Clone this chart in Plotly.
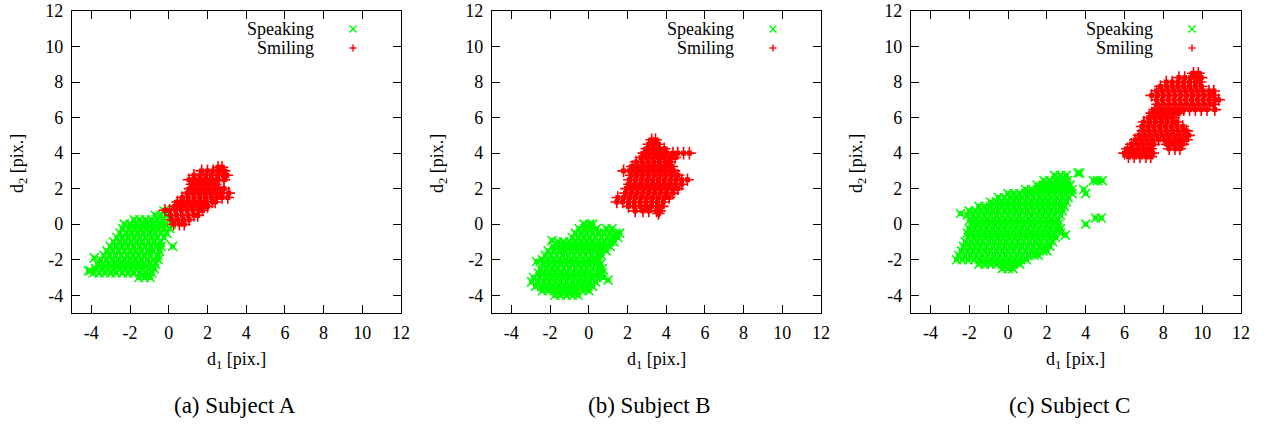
import plotly.graph_objects as go

# ---------------- data (rows of points: (d2, [d1 values])) ----------------
speaking_a_rows = [
    (-3.0, [-1.55, -1.25, -0.95]),
    (-2.75, [-3.9, -3.6, -3.3, -3.0, -2.72, -2.4, -2.1, -1.82, -1.5, -1.2, -0.88]),
    (-2.62, [-4.15, -4.05]),
    (-2.5, [-3.78, -3.45, -3.15, -2.85, -2.55, -2.25, -1.95, -1.65, -1.35, -1.05, -0.75]),
    (-2.25, [-3.68, -3.4, -3.1, -2.8, -2.5, -2.2, -1.9, -1.6, -1.3, -1.0, -0.68]),
    (-2.0, [-3.52, -3.2, -2.9, -2.6, -2.3, -2.0, -1.7, -1.4, -1.1, -0.8, -0.55]),
    (-1.9, [-3.85]),
    (-1.75, [-3.35, -3.05, -2.75, -2.45, -2.15, -1.85, -1.55, -1.25, -0.95, -0.55]),
    (-1.5, [-3.2, -2.9, -2.6, -2.3, -2.0, -1.7, -1.4, -1.1, -0.85, -0.48]),
    (-1.25, [-3.02, -2.72, -2.42, -2.12, -1.82, -1.52, -1.22, -0.92, -0.62, -0.4, 0.2]),
    (-1.0, [-2.85, -2.55, -2.25, -1.95, -1.65, -1.35, -1.05, -0.75, -0.42]),
    (-0.75, [-2.68, -2.4, -2.1, -1.8, -1.5, -1.2, -0.9, -0.6, -0.25]),
    (-0.5, [-2.52, -2.2, -1.9, -1.6, -1.3, -1.0, -0.7, -0.4, -0.1]),
    (-0.25, [-2.38, -2.05, -1.75, -1.45, -1.15, -0.85, -0.55, -0.25, 0.05]),
    (0.0, [-2.3, -2.0, -1.7, -1.4, -1.1, -0.8, -0.5, -0.2, 0.15]),
    (0.25, [-1.8, -1.5, -1.2, -0.9, -0.6, -0.3, 0.05]),
    (0.5, [-0.7, -0.4, -0.1]),
    (0.75, [-0.25, 0.0]),
]
smiling_a_rows = [
    (0.0, [0.25, 0.55, 0.8]),
    (0.25, [0.15, 0.45, 0.75, 1.05]),
    (0.5, [0.1, 0.4, 0.7, 1.0, 1.3, 1.5]),
    (0.78, [-0.2, 0.05, 0.35, 0.65, 0.95, 1.25, 1.55, 1.75]),
    (1.0, [0.3, 0.6, 0.9, 1.2, 1.5, 1.8, 2.0]),
    (1.25, [0.45, 0.75, 1.05, 1.35, 1.65, 1.95, 2.25, 2.4]),
    (1.5, [0.7, 1.0, 1.3, 1.6, 1.9, 2.2, 2.5, 2.75, 3.05]),
    (1.75, [0.95, 1.25, 1.55, 1.85, 2.15, 2.45, 2.75, 3.1]),
    (2.0, [1.1, 1.4, 1.7, 2.0, 2.3, 2.6, 2.85]),
    (2.25, [1.2, 1.5, 1.8, 2.1, 2.4]),
    (2.5, [1.05, 1.35, 1.65, 1.95, 2.25, 2.55, 2.85]),
    (2.75, [1.3, 1.6, 1.9, 2.2, 2.5, 2.8, 3.0]),
    (3.0, [1.7, 2.0, 2.3, 2.6, 2.85]),
    (3.2, [2.55, 2.75]),
]
speaking_b_rows = [
    (0.0, [-0.25, 0.05, 0.2]),
    (-0.25, [-0.5, -0.2, 0.1, 0.4, 0.9, 1.2]),
    (-0.5, [-0.7, -0.4, -0.1, 0.2, 0.5, 0.8, 1.1, 1.4, 1.6]),
    (-0.75, [-0.85, -0.55, -0.25, 0.05, 0.35, 0.65, 0.95, 1.25, 1.5]),
    (-0.92, [-1.9]),
    (-1.0, [-1.6, -1.3, -1.0, -0.7, -0.4, -0.1, 0.2, 0.5, 0.8, 1.1, 1.3]),
    (-1.25, [-1.85, -1.55, -1.25, -0.95, -0.65, -0.35, -0.05, 0.25, 0.55, 0.85, 1.1]),
    (-1.5, [-2.1, -1.8, -1.5, -1.2, -0.9, -0.6, -0.3, 0.0, 0.3, 0.6, 0.9]),
    (-1.75, [-2.25, -1.95, -1.65, -1.35, -1.05, -0.75, -0.45, -0.15, 0.15, 0.45, 0.65]),
    (-2.0, [-2.4, -2.1, -1.8, -1.5, -1.2, -0.9, -0.6, -0.3, 0.0, 0.3, 0.5]),
    (-2.1, [-2.7]),
    (-2.25, [-2.35, -2.05, -1.75, -1.45, -1.15, -0.85, -0.55, -0.25, 0.05, 0.35, 0.6]),
    (-2.5, [-2.5, -2.2, -1.9, -1.6, -1.3, -1.0, -0.7, -0.4, -0.1, 0.2, 0.5, 0.7]),
    (-2.75, [-2.6, -2.3, -2.0, -1.7, -1.4, -1.1, -0.8, -0.5, -0.2, 0.1, 0.4, 0.7]),
    (-3.0, [-2.85, -2.55, -2.25, -1.95, -1.65, -1.35, -1.05, -0.75, -0.45, -0.15, 0.15, 0.45, 0.75]),
    (-3.15, [1.0]),
    (-3.25, [-2.95, -2.65, -2.35, -2.05, -1.75, -1.45, -1.15, -0.85, -0.55, -0.25, 0.05, 0.35]),
    (-3.5, [-2.75, -2.45, -2.15, -1.85, -1.55, -1.25, -0.95, -0.65, -0.35, -0.05, 0.2]),
    (-3.75, [-2.4, -2.1, -1.8, -1.5, -1.2, -0.9, -0.6, -0.3, 0.0]),
    (-4.0, [-1.75, -1.45, -1.15, -0.85, -0.55]),
]
smiling_b_rows = [
    (4.75, [3.25, 3.45]),
    (4.5, [3.1, 3.35, 3.6]),
    (4.25, [3.0, 3.3, 3.6, 3.9]),
    (4.0, [2.85, 3.15, 3.45, 3.75, 4.05, 4.35, 4.6, 4.9, 5.2]),
    (3.75, [2.7, 3.0, 3.3, 3.6, 3.9, 4.2, 4.45]),
    (3.5, [2.45, 2.75, 3.05, 3.35, 3.65, 3.95, 4.2]),
    (3.25, [2.25, 2.55, 2.85, 3.15, 3.45, 3.75, 4.05, 4.3]),
    (3.0, [1.8, 2.1, 2.4, 2.7, 3.0, 3.3, 3.6, 3.9, 4.2, 4.4]),
    (2.75, [2.2, 2.5, 2.8, 3.1, 3.4, 3.7, 4.0, 4.3, 4.6]),
    (2.5, [2.1, 2.4, 2.7, 3.0, 3.3, 3.6, 3.9, 4.2, 4.5, 4.8, 5.1]),
    (2.25, [2.1, 2.4, 2.7, 3.0, 3.3, 3.6, 3.9, 4.2, 4.5, 4.8]),
    (2.0, [1.95, 2.25, 2.55, 2.85, 3.15, 3.45, 3.75, 4.05, 4.35, 4.6]),
    (1.75, [1.9, 2.2, 2.5, 2.8, 3.1, 3.4, 3.7, 4.0, 4.35]),
    (1.5, [1.5, 1.8, 2.1, 2.4, 2.7, 3.0, 3.3, 3.6, 3.9, 4.15]),
    (1.25, [1.45, 1.75, 2.05, 2.35, 2.65, 2.95, 3.25, 3.55, 3.85]),
    (1.0, [2.05, 2.35, 2.65, 2.95, 3.25, 3.55, 3.8]),
    (0.75, [2.4, 2.8, 3.1, 3.5, 3.65]),
    (0.6, [3.6]),
]
speaking_c_rows = [
    (2.88, [3.6, 3.7]),
    (2.75, [2.4, 2.7, 3.0]),
    (2.45, [1.85, 2.15, 2.45, 2.75, 3.05, 4.4, 4.6, 4.85]),
    (2.2, [1.5, 1.8, 2.1, 2.4, 2.7, 3.0, 3.2]),
    (1.95, [0.9, 1.2, 1.5, 1.8, 2.1, 2.4, 2.7, 3.0, 3.3, 3.9]),
    (1.72, [0.0, 0.3, 0.6, 0.9, 1.2, 1.5, 1.8, 2.1, 2.4, 2.7, 3.0, 3.3, 4.0]),
    (1.5, [-0.5, -0.2, 0.1, 0.4, 0.7, 1.0, 1.3, 1.6, 1.9, 2.2, 2.5, 2.8, 3.1]),
    (1.25, [-0.9, -0.6, -0.3, 0.0, 0.3, 0.6, 0.9, 1.2, 1.5, 1.8, 2.1, 2.4, 2.7, 3.0]),
    (1.0, [-1.5, -1.2, -0.9, -0.6, -0.3, 0.0, 0.3, 0.6, 0.9, 1.2, 1.5, 1.8, 2.1, 2.4, 2.7, 2.9]),
    (0.75, [-2.0, -1.7, -1.4, -1.1, -0.8, -0.5, -0.2, 0.1, 0.4, 0.7, 1.0, 1.3, 1.6, 1.9, 2.2, 2.5, 2.8]),
    (0.6, [-2.45]),
    (0.5, [-2.1, -1.8, -1.5, -1.2, -0.9, -0.6, -0.3, 0.0, 0.3, 0.6, 0.9, 1.2, 1.5, 1.8, 2.1, 2.4, 2.7]),
    (0.35, [4.5, 4.8]),
    (0.25, [-1.95, -1.65, -1.35, -1.05, -0.75, -0.45, -0.15, 0.15, 0.45, 0.75, 1.05, 1.35, 1.65, 1.95, 2.25, 2.55]),
    (0.0, [-1.9, -1.6, -1.3, -1.0, -0.7, -0.4, -0.1, 0.2, 0.5, 0.8, 1.1, 1.4, 1.7, 2.0, 2.3, 2.6, 4.0]),
    (-0.25, [-2.0, -1.7, -1.4, -1.1, -0.8, -0.5, -0.2, 0.1, 0.4, 0.7, 1.0, 1.3, 1.6, 1.9, 2.2, 2.5, 2.7]),
    (-0.5, [-2.1, -1.8, -1.5, -1.2, -0.9, -0.6, -0.3, 0.0, 0.3, 0.6, 0.9, 1.2, 1.5, 1.8, 2.1, 2.4, 2.7]),
    (-0.62, [2.95]),
    (-0.75, [-2.05, -1.75, -1.45, -1.15, -0.85, -0.55, -0.25, 0.05, 0.35, 0.65, 0.95, 1.25, 1.55, 1.85, 2.15, 2.45]),
    (-1.0, [-2.2, -1.9, -1.6, -1.3, -1.0, -0.7, -0.4, -0.1, 0.2, 0.5, 0.8, 1.1, 1.4, 1.7, 2.0, 2.3]),
    (-1.25, [-2.3, -2.0, -1.7, -1.4, -1.1, -0.8, -0.5, -0.2, 0.1, 0.4, 0.7, 1.0, 1.3, 1.6, 1.9, 2.15]),
    (-1.5, [-2.4, -2.1, -1.8, -1.5, -1.2, -0.9, -0.6, -0.3, 0.0, 0.3, 0.6, 0.9, 1.2, 1.5, 1.8, 2.0]),
    (-1.75, [-2.55, -2.25, -1.95, -1.65, -1.35, -1.05, -0.75, -0.45, -0.15, 0.15, 0.45, 0.75, 1.05, 1.35, 1.55]),
    (-2.0, [-2.65, -2.35, -2.05, -1.75, -1.45, -1.15, -0.85, -0.55, -0.25, 0.05, 0.35, 0.65, 0.95]),
    (-2.25, [-1.5, -1.2, -0.9, -0.6, -0.3, 0.0, 0.3, 0.6]),
    (-2.5, [-0.3, 0.0, 0.25]),
]
smiling_c_rows = [
    (8.5, [9.55, 9.8]),
    (8.25, [8.8, 9.1, 9.4, 9.7, 9.95]),
    (8.0, [8.15, 8.45, 8.75, 9.05, 9.35, 9.65, 9.9]),
    (7.75, [7.85, 8.15, 8.45, 8.75, 9.05, 9.35, 9.65, 9.95]),
    (7.5, [7.65, 7.95, 8.25, 8.55, 8.85, 9.15, 9.45, 9.75, 10.05, 10.35, 10.6]),
    (7.25, [7.4, 7.7, 8.0, 8.3, 8.6, 8.9, 9.2, 9.5, 9.8, 10.1, 10.4, 10.6]),
    (7.0, [7.65, 7.95, 8.25, 8.55, 8.85, 9.15, 9.45, 9.75, 10.05, 10.35, 10.65, 10.85]),
    (6.75, [7.7, 8.0, 8.3, 8.6, 8.9, 9.2, 9.5, 9.8, 10.1, 10.4, 10.6]),
    (6.45, [7.55, 7.85, 8.15, 8.45, 8.75, 9.05, 9.35, 9.65, 9.95, 10.25, 10.65]),
    (6.25, [7.4, 7.7, 8.0, 8.3, 8.6, 8.8]),
    (6.0, [7.25, 7.55, 7.85, 8.15, 8.45]),
    (5.75, [7.0, 7.3, 7.6, 7.9, 8.2, 8.5, 8.7]),
    (5.5, [6.9, 7.2, 7.5, 7.8, 8.1, 8.4, 8.7, 9.0]),
    (5.25, [6.95, 7.25, 7.55, 7.85, 8.15, 8.45, 8.75, 9.05, 9.2]),
    (5.0, [6.75, 7.05, 7.35, 7.65, 7.95, 8.25, 8.55, 8.85, 9.15, 9.3]),
    (4.75, [6.55, 6.85, 7.15, 7.45, 7.75, 8.05, 8.35, 8.65, 8.95, 9.2]),
    (4.5, [6.35, 6.65, 6.95, 7.25, 7.5, 8.2, 8.5, 8.8, 9.0]),
    (4.25, [6.15, 6.45, 6.75, 7.05, 7.35, 8.3, 8.6, 8.85]),
    (4.0, [6.0, 6.3, 6.6, 6.9, 7.2, 7.45]),
    (3.8, [6.2, 6.5, 6.8, 7.1, 7.35]),
]

tick_values = [-4, -2, 0, 2, 4, 6, 8, 10, 12]
tick_labels = ["-4", "-2", "0", "2", "4", "6", "8", "10", "12"]
series_names = ["Speaking", "Smiling"]
captions = ["(a) Subject A", "(b) Subject B", "(c) Subject C"]

# ---------------- layout geometry (pixels in the 1268x425 page) ----------------
W, H = 1268, 425
PLOT_TOP, PLOT_BOTTOM = 11, 313
panel_left = [72, 492, 911]
panel_right = [401, 821, 1241]
caption_x = [235, 649, 1069]

GREEN = "#00ff00"
RED = "#ff0000"
FONT = "Liberation Serif"


def fx(p):
    return p / W


def fy(p):
    return 1 - p / H


def flatten(rows):
    xs, ys = [], []
    for yv, row in rows:
        for xv in row:
            xs.append(xv)
            ys.append(yv)
    return xs, ys


panels = [
    (speaking_a_rows, smiling_a_rows),
    (speaking_b_rows, smiling_b_rows),
    (speaking_c_rows, smiling_c_rows),
]

fig = go.Figure()
annotations = []
shapes = []

for i, (sp_rows, sm_rows) in enumerate(panels):
    suffix = "" if i == 0 else str(i + 1)
    xref = "x" + suffix
    yref = "y" + suffix
    for rows, name, sym, col in [(sp_rows, series_names[0], "x-thin", GREEN),
                                 (sm_rows, series_names[1], "cross-thin", RED)]:
        px_, py_ = flatten(rows)
        # dense overplotted core (the original has hundreds of overlapping markers)
        fig.add_trace(go.Scatter(
            x=px_, y=py_, mode="markers", name=name, showlegend=False,
            xaxis=xref, yaxis=yref, hoverinfo="skip",
            marker=dict(symbol="square", size=5, color=col, line=dict(width=0)),
        ))
        fig.add_trace(go.Scatter(
            x=px_, y=py_, mode="markers", name=name, showlegend=False,
            xaxis=xref, yaxis=yref, hoverinfo="skip",
            marker=dict(symbol=sym, size=9, color=col, line=dict(width=1.6, color=col)),
        ))

    axis_common = dict(
        range=[-5, 12], tickmode="array", tickvals=tick_values, ticktext=tick_labels,
        showline=True, linecolor="black", linewidth=1.2, mirror="ticks",
        ticks="inside", ticklen=8, tickcolor="black", tickwidth=1,
        showgrid=False, zeroline=False, fixedrange=True, automargin=False,
        tickfont=dict(family=FONT, size=18, color="black"),
    )
    L, R = panel_left[i], panel_right[i]
    fig.update_layout(**{
        "xaxis" + suffix: dict(axis_common, domain=[fx(L), fx(R)], anchor=yref, ticklabelstandoff=3),
        "yaxis" + suffix: dict(axis_common, domain=[fy(PLOT_BOTTOM), fy(PLOT_TOP)], anchor=xref,
                               ticklabelstandoff=4),
    })

    # axis titles
    annotations.append(dict(
        text="d<sub>1</sub> [pix.]", x=fx(L + 164), y=fy(360), xref="paper", yref="paper",
        showarrow=False, xanchor="center", yanchor="middle",
        font=dict(family=FONT, size=18, color="black"),
    ))
    annotations.append(dict(
        text="d<sub>2</sub> [pix.]", x=fx(L - 54), y=fy(164), xref="paper", yref="paper",
        showarrow=False, xanchor="center", yanchor="middle", textangle=-90,
        font=dict(family=FONT, size=18, color="black"),
    ))
    # caption
    annotations.append(dict(
        text=captions[i], x=fx(caption_x[i]), y=fy(405), xref="paper", yref="paper",
        showarrow=False, xanchor="center", yanchor="middle",
        font=dict(family=FONT, size=23, color="black"),
    ))
    # legend (gnuplot style: text then sample)
    for k, (name, col) in enumerate(zip(series_names, [GREEN, RED])):
        ly = 29 + 19 * k
        annotations.append(dict(
            text=name, x=fx(L + 244), y=fy(ly), xref="paper", yref="paper",
            showarrow=False, xanchor="right", yanchor="middle",
            font=dict(family=FONT, size=18, color="black"),
        ))
        cx = L + 281
        s = 3.5
        if k == 0:
            segs = [((cx - s, ly - s), (cx + s, ly + s)), ((cx - s, ly + s), (cx + s, ly - s))]
        else:
            segs = [((cx - s, ly), (cx + s, ly)), ((cx, ly - s), (cx, ly + s))]
        for (x0, y0), (x1, y1) in segs:
            shapes.append(dict(type="line", xref="paper", yref="paper",
                               x0=fx(x0), y0=fy(y0), x1=fx(x1), y1=fy(y1),
                               line=dict(color=col, width=1.4)))

fig.update_layout(
    template="none",
    width=W, height=H, margin=dict(l=0, r=0, t=0, b=0, pad=0),
    paper_bgcolor="white", plot_bgcolor="white",
    showlegend=False, annotations=annotations, shapes=shapes,
    font=dict(family=FONT, size=18, color="black"),
)

fig.write_html("out.html", config={"displayModeBar": False},
               post_script="document.body.style.margin='0';")
